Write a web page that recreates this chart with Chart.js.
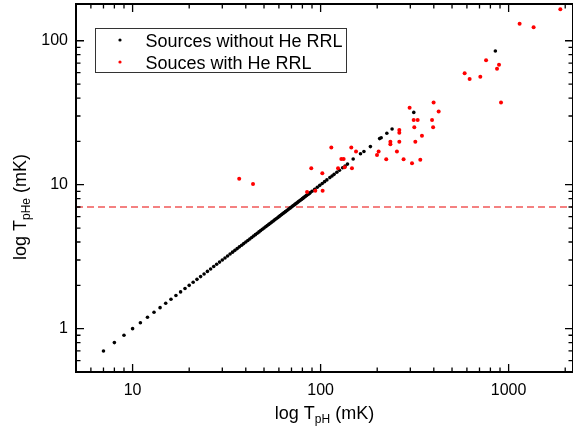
<!DOCTYPE html>
<html>
<head>
<meta charset="utf-8">
<script src="https://cdn.jsdelivr.net/npm/chart.js@4.4.0/dist/chart.umd.min.js"></script>
<style>
    html, body { margin: 0; padding: 0; background: #fff; }
</style>
</head>
<body>
<canvas id="scatter_canvas" width="573" height="432"></canvas>
<script>
/*--------------------------------------------------------------------------------
----- DATA (peak temperatures, mK)
--------------------------------------------------------------------------------*/

// Sources without He RRL (He value taken as 10% of H)
var without_he_x = [7, 8, 9, 10, 11, 12, 13, 14, 15, 16, 17, 18, 19, 20, 21, 22, 23, 24, 25, 26,
    27, 28, 29, 30, 31, 32, 33, 34, 35, 36, 37, 38, 39, 40, 41, 42, 43, 44, 45, 46, 47, 48, 49, 50,
    51, 52, 53, 54, 55, 56, 57, 58, 59, 60, 61, 62, 63, 64, 65, 66, 67, 68, 69, 70, 71, 72, 73, 74,
    75, 76, 77, 78, 79, 80, 81, 82, 83, 84, 85, 86, 87, 88,
    90, 93, 96, 99, 102, 105, 108, 112, 115, 118, 122, 126, 131, 135, 139,
    149, 163, 170, 184, 206, 210, 225, 240, 313, 850];
var without_he_y = [0.7, 0.8, 0.9, 1.0, 1.1, 1.2, 1.3, 1.4, 1.5, 1.6, 1.7, 1.8, 1.9, 2.0, 2.1, 2.2, 2.3, 2.4, 2.5, 2.6,
    2.7, 2.8, 2.9, 3.0, 3.1, 3.2, 3.3, 3.4, 3.5, 3.6, 3.7, 3.8, 3.9, 4.0, 4.1, 4.2, 4.3, 4.4, 4.5, 4.6, 4.7, 4.8, 4.9, 5.0,
    5.1, 5.2, 5.3, 5.4, 5.5, 5.6, 5.7, 5.8, 5.9, 6.0, 6.1, 6.2, 6.3, 6.4, 6.5, 6.6, 6.7, 6.8, 6.9, 7.0, 7.1, 7.2, 7.3, 7.4,
    7.5, 7.6, 7.7, 7.8, 7.9, 8.0, 8.1, 8.2, 8.3, 8.4, 8.5, 8.6, 8.7, 8.8,
    9.0, 9.3, 9.6, 9.9, 10.2, 10.5, 10.8, 11.2, 11.5, 11.8, 12.2, 12.6, 13.1, 13.5, 13.9,
    15.1, 16.4, 17.0, 18.4, 20.9, 21.2, 22.8, 24.4, 31.8, 84.9];

// Sources with He RRL
var with_he_x = [36.9, 43.7, 84.7, 93.7, 102.5, 102.1, 89.2, 114, 128.9, 132.6,
    123.8, 134.3, 145.6, 146.8, 154.3, 199.5, 203.5, 223.4, 254.6, 276.3,
    306.3, 339, 235, 235, 262.2, 262.2, 262.2, 297.4, 312.7, 328.3,
    315, 319, 346, 391.5, 399, 424.6, 396.6, 583.6, 620.3, 707,
    758.6, 867.6, 889, 911, 1144, 1358, 1884];
var with_he_y = [11.0, 10.1, 8.89, 9.08, 9.08, 12.0, 13.0, 18.1, 15.1, 15.1,
    13.0, 13.2, 18.1, 13.0, 17.0, 16.1, 17.0, 15.0, 17.0, 15.0,
    14.1, 14.9, 19.9, 19.1, 24.0, 23.0, 19.9, 34.3, 28.2, 28.2,
    25.1, 19.9, 21.9, 28.2, 37.2, 32.2, 25.1, 59.5, 54.3, 56.2,
    73.1, 63.9, 68.2, 37.2, 131.2, 123.9, 165.2];

// Detection threshold (dashed line)
var threshold = 7;

// Axis ranges and labelled ticks
var x_range = [5, 2200];
var y_range = [0.5, 180];
var x_tick_labels = [10, 100, 1000];
var y_tick_labels = [1, 10, 100];

var series_labels = ['Sources without He RRL', 'Souces with He RRL'];

/*--------------------------------------------------------------------------------
----- HELPERS
--------------------------------------------------------------------------------*/

function to_points(xs, ys) {
    return xs.map(function (x, i) { return { x: x, y: ys[i] }; });
}

function is_decade(v) {
    var l = Math.log10(v);
    return Math.abs(l - Math.round(l)) < 1e-9;
}

// 1..9 x 10^n tick values inside a log range
function log_tick_values(min, max) {
    var out = [];
    for (var e = Math.floor(Math.log10(min)); e <= Math.ceil(Math.log10(max)); e++) {
        for (var m = 1; m <= 9; m++) {
            var v = m * Math.pow(10, e);
            if (v >= min * 0.9999 && v <= max * 1.0001) out.push(v);
        }
    }
    return out;
}

// Draw a title made of [text, size, baseline shift] parts, centred on 0
function draw_parts(ctx, parts) {
    var total = 0;
    parts.forEach(function (p) {
        ctx.font = p[1] + 'px "Liberation Sans", Arial, sans-serif';
        total += ctx.measureText(p[0]).width;
    });
    var x = -total / 2;
    parts.forEach(function (p) {
        ctx.font = p[1] + 'px "Liberation Sans", Arial, sans-serif';
        ctx.fillText(p[0], x, p[2]);
        x += ctx.measureText(p[0]).width;
    });
}

// Frame with inward ticks on four sides, axis titles and the boxed legend
var frame_plugin = {
    id: 'frame_plugin',
    afterDraw: function (chart) {
        var ctx = chart.ctx;
        var area = chart.chartArea;
        var xs = chart.scales.x;
        var ys = chart.scales.y;

        ctx.save();
        ctx.strokeStyle = '#000';
        ctx.fillStyle = '#000';

        ctx.lineWidth = 1.3;
        ctx.beginPath();
        log_tick_values(x_range[0], x_range[1]).forEach(function (v) {
            var px = xs.getPixelForValue(v);
            var len = is_decade(v) ? 8 : 4.5;
            ctx.moveTo(px, area.bottom); ctx.lineTo(px, area.bottom - len);
            ctx.moveTo(px, area.top); ctx.lineTo(px, area.top + len);
        });
        log_tick_values(y_range[0], y_range[1]).forEach(function (v) {
            var py = ys.getPixelForValue(v);
            var len = is_decade(v) ? 8 : 4.5;
            ctx.moveTo(area.left, py); ctx.lineTo(area.left + len, py);
            ctx.moveTo(area.right, py); ctx.lineTo(area.right - len, py);
        });
        ctx.stroke();

        ctx.lineWidth = 2;
        ctx.strokeRect(area.left, area.top, area.right - area.left, area.bottom - area.top);

        // Axis titles with subscripts
        ctx.textBaseline = 'alphabetic';
        ctx.textAlign = 'left';
        ctx.save();
        ctx.translate((area.left + area.right) / 2, 419);
        draw_parts(ctx, [['log T', 18, 0], ['pH', 12, 4], [' (mK)', 18, 0]]);
        ctx.restore();

        ctx.save();
        ctx.translate(26, 207);
        ctx.rotate(-Math.PI / 2);
        draw_parts(ctx, [['log T', 18, 0], ['pHe', 12, 4], [' (mK)', 18, 0]]);
        ctx.restore();

        // Legend box
        var lx = area.left + 19, ly = area.top + 24.5;
        ctx.lineWidth = 1;
        ctx.strokeStyle = '#333';
        ctx.strokeRect(lx + 0.5, ly, 251, 44);
        ctx.font = '18px "Liberation Sans", Arial, sans-serif';
        [0, 1].forEach(function (i) {
            var ds = chart.data.datasets[i];
            var cy = ly + 11.5 + i * 22;
            ctx.fillStyle = ds.backgroundColor;
            ctx.beginPath();
            ctx.arc(lx + 25, cy, 1.6, 0, Math.PI * 2);
            ctx.fill();
            ctx.fillStyle = '#000';
            ctx.fillText(ds.label, lx + 50.5, cy + 6.7);
        });
        ctx.restore();
    }
};

/*--------------------------------------------------------------------------------
----- SCATTER CHART
--------------------------------------------------------------------------------*/

function initialize_scatter_chart() {
    Chart.defaults.font.family = '"Liberation Sans", Arial, sans-serif';
    Chart.defaults.color = '#000';

    var datapoints = {
        datasets: [{
            label: series_labels[0],
            data: to_points(without_he_x, without_he_y),
            backgroundColor: '#000000',
            borderWidth: 0,
            pointRadius: 1.8,
            order: 2
        }, {
            label: series_labels[1],
            data: to_points(with_he_x, with_he_y),
            backgroundColor: '#ff0000',
            borderWidth: 0,
            pointRadius: 2,
            order: 1
        }, {
            type: 'line',
            label: 'threshold',
            data: [{ x: x_range[0], y: threshold }, { x: x_range[1], y: threshold }],
            borderColor: 'rgba(240, 70, 70, 0.9)',
            borderWidth: 1.3,
            borderDash: [7, 4],
            pointRadius: 0,
            order: 3
        }]
    };

    var context = document.getElementById('scatter_canvas').getContext('2d');

    var scatter_chart = new Chart(context, {
        type: 'scatter',
        data: datapoints,
        plugins: [frame_plugin],
        options: {
            responsive: false,
            animation: false,
            events: [],
            layout: { autoPadding: false, padding: { top: 4, right: 0, bottom: 0, left: 0 } },
            plugins: {
                legend: { display: false },
                tooltip: { enabled: false }
            },
            scales: {
                x: {
                    type: 'logarithmic',
                    position: 'bottom',
                    min: x_range[0],
                    max: x_range[1],
                    grid: { display: false, drawTicks: false },
                    border: { display: false },
                    ticks: {
                        autoSkip: false,
                        maxRotation: 0,
                        minRotation: 0,
                        padding: 9,
                        font: { size: 16 },
                        color: '#000',
                        callback: function (value) {
                            return x_tick_labels.indexOf(Math.round(value)) >= 0 && is_decade(value) ? String(Math.round(value)) : '';
                        }
                    },
                    afterFit: function (scale) {
                        scale.height = 60;
                        scale.paddingLeft = 0;
                        scale.paddingRight = 0;
                    }
                },
                y: {
                    type: 'logarithmic',
                    position: 'left',
                    min: y_range[0],
                    max: y_range[1],
                    grid: { display: false, drawTicks: false },
                    border: { display: false },
                    ticks: {
                        autoSkip: false,
                        padding: 8,
                        font: { size: 16 },
                        color: '#000',
                        callback: function (value) {
                            return y_tick_labels.indexOf(Math.round(value)) >= 0 && is_decade(value) ? String(Math.round(value)) : '';
                        }
                    },
                    afterFit: function (scale) {
                        scale.width = 76;
                        scale.paddingTop = 0;
                        scale.paddingBottom = 0;
                    }
                }
            }
        }
    });
}

initialize_scatter_chart();
</script>
</body>
</html>
